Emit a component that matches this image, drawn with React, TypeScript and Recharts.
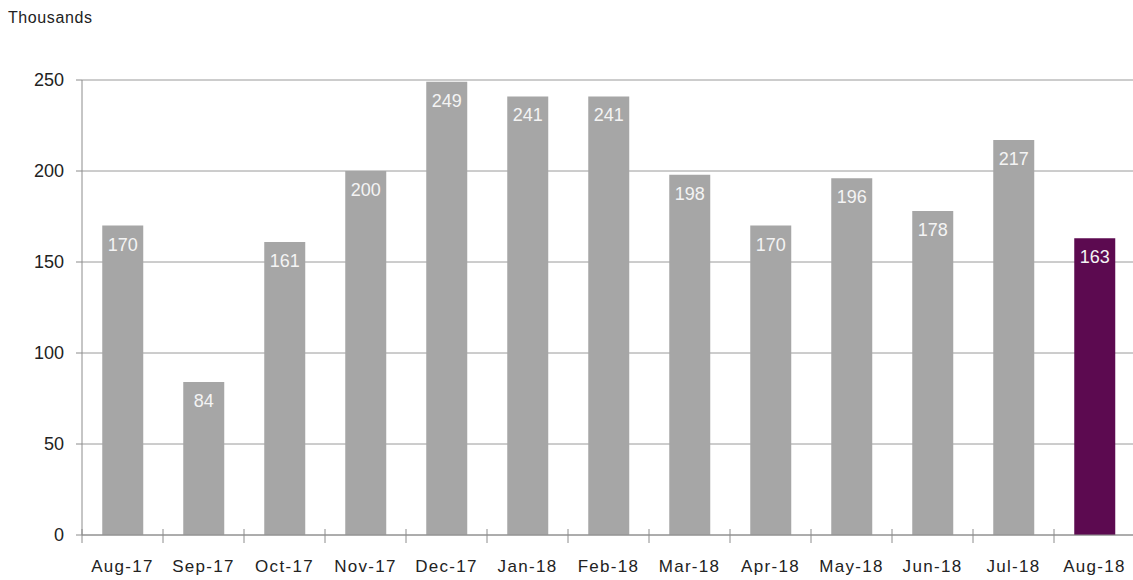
import { BarChart, Bar, XAxis, YAxis, CartesianGrid, Cell, LabelList } from 'recharts'

const months = [
  'Aug-17', 'Sep-17', 'Oct-17', 'Nov-17', 'Dec-17', 'Jan-18', 'Feb-18',
  'Mar-18', 'Apr-18', 'May-18', 'Jun-18', 'Jul-18', 'Aug-18',
]
const visits = [170, 84, 161, 200, 249, 241, 241, 198, 170, 196, 178, 217, 163]
const yTicks = [0, 50, 100, 150, 200, 250]

const data = months.map((month, i) => ({ month, value: visits[i] }))

const W = 1135
const H = 580
const Y_AXIS_W = 82
const BAND = (W - Y_AXIS_W) / months.length
const AXIS_COLOR = '#8c8c8c'
const FONT = '"Liberation Sans", Arial, sans-serif'

const MonthTick = ({ x, y, payload, index }: any) => (
  <g>
    {index === 0 && (
      <line x1={x - BAND / 2} x2={x - BAND / 2} y1={y - 6} y2={y + 8} stroke={AXIS_COLOR} />
    )}
    <line x1={x + BAND / 2} x2={x + BAND / 2} y1={y - 6} y2={y + 8} stroke={AXIS_COLOR} />
    <text
      x={x} y={y + 37} textAnchor="middle" fill="#222"
      fontSize={17} letterSpacing={1.3} fontFamily={FONT}
    >
      {payload.value}
    </text>
  </g>
)

const ValueLabel = ({ x, y, width, value }: any) => (
  <text
    x={x + width / 2} y={y + 19} textAnchor="middle" dominantBaseline="central"
    fill="#f4f4f4" fontSize={18} fontFamily={FONT}
  >
    {value}
  </text>
)

export default function App() {
  return (
    <div style={{ position: 'absolute', left: 0, top: 0, width: 1133, height: H, overflow: 'hidden', background: '#fff' }}>
      <div style={{ position: 'absolute', left: 8, top: 9, fontFamily: FONT, fontSize: 16, letterSpacing: 0.6, color: '#222' }}>
        Thousands
      </div>
      <BarChart
        width={W} height={H} data={data}
        margin={{ top: 80, right: 0, left: 0, bottom: 15 }}
        barCategoryGap="25%"
      >
        <CartesianGrid vertical={false} stroke="#9a9a9a" />
        <XAxis
          dataKey="month" height={30} tickSize={0} tickMargin={0} tickLine={false}
          axisLine={{ stroke: AXIS_COLOR }} tick={<MonthTick />} interval={0}
        />
        <YAxis
          width={Y_AXIS_W} domain={[0, 250]} ticks={yTicks} interval={0}
          axisLine={{ stroke: AXIS_COLOR }} tickLine={{ stroke: AXIS_COLOR }}
          tickSize={6} tickMargin={12}
          tick={{ fill: '#222', fontSize: 18, fontFamily: FONT }}
        />
        <Bar dataKey="value" isAnimationActive={false}>
          {data.map((d, i) => (
            <Cell key={d.month} fill={i === data.length - 1 ? '#5c0a50' : '#a6a6a6'} />
          ))}
          <LabelList dataKey="value" content={<ValueLabel />} />
        </Bar>
      </BarChart>
    </div>
  )
}
